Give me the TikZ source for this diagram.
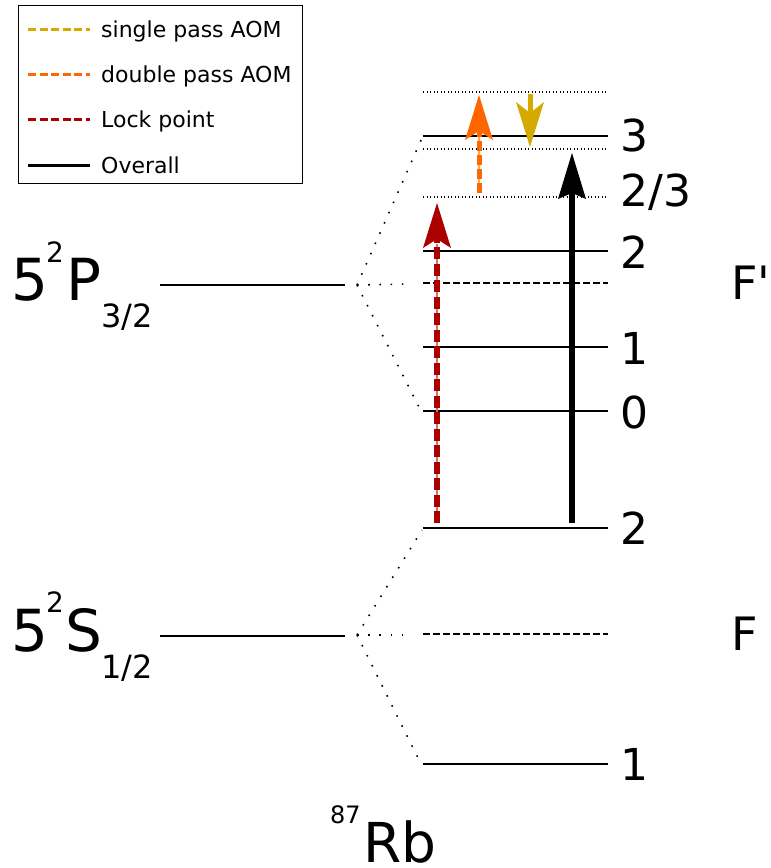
\documentclass[tikz,border=0pt]{standalone}
\usepackage{fontspec}
\newfontfamily\dejavu{DejaVu Sans}
\usetikzlibrary{arrows.meta}
\definecolor{gold}{HTML}{D4AA00}
\definecolor{orng}{HTML}{FF6600}
\definecolor{lockred}{HTML}{AA0000}

\tikzset{
  level/.style={line width=1.6pt},
  sublevel/.style={line width=1.3pt, dash pattern=on 1.3pt off 2.2pt},
  centerlevel/.style={line width=1.4pt, dash pattern=on 7pt off 3pt},
  guide/.style={line width=1.6pt, dash pattern=on 1.6pt off 9.6pt},
  txt/.style={inner sep=0pt, anchor=base west, text depth=0pt},
  big/.style={txt, font=\dejavu\fontsize{58}{58}\selectfont},
  small/.style={txt, font=\dejavu\fontsize{32}{32}\selectfont},
  supsc/.style={txt, font=\dejavu\fontsize{28}{28}\selectfont},
  num/.style={txt, font=\dejavu\fontsize{44}{44}\selectfont},
  legtext/.style={txt, font=\dejavu\fontsize{22}{22}\selectfont},
  legline/.style={line width=3pt, dash pattern=on 8pt off 3.5pt},
  head/.style={-{Stealth[length=45pt,width=28pt,inset=9pt,line width=0pt]}},
}

\begin{document}
\begin{tikzpicture}[x=1pt, y=-1pt]
\useasboundingbox (0,0) rectangle (771,868);

% ---------- legend ----------
\node[draw, line width=1.3pt, minimum width=284pt, minimum height=178pt, anchor=north west, inner sep=0pt] (legend) at (18,5) {};
\foreach \y/\c/\t/\s in {29/gold/single pass AOM/legline, 74/orng/double pass AOM/legline, 119/lockred/Lock point/legline, 165/black/Overall/{}} {
  \coordinate (la\y) at (28,\y);
  \coordinate (lb\y) at (90,\y);
  \draw[line width=3pt, color=\c, \s] (la\y) -- (lb\y);
  \node[legtext] (lt\y) at (101,\y+8) {\t};
}

% ---------- fine structure levels ----------
\coordinate (pl) at (160,285);
\coordinate (pr) at (345,285);
\coordinate (sl) at (160,636);
\coordinate (sr) at (345,636);
\draw[level] (pl) -- (pr);
\draw[level] (sl) -- (sr);

\node[big] (p5) at (11,300) {5};
\node[supsc] (p2) at (46,262) {2};
\node[big] (pP) at (66,300) {P};
\node[small] (pj) at (101,327) {3/2};

\node[big] (s5) at (11,651) {5};
\node[supsc] (s2) at (46,612) {2};
\node[big] (sS) at (65,651) {S};
\node[small] (sj) at (101,678) {1/2};

% ---------- hyperfine levels ----------
\foreach \n/\y in {e3/136, e2/251, e1/347, e0/411, g2/528, g1/764} {
  \coordinate (\n w) at (423,\y);
  \coordinate (\n e) at (608,\y);
  \draw[level] (\n w) -- (\n e);
}
\foreach \n/\y in {vt/92, vm/149, vb/197} {
  \coordinate (\n w) at (423,\y);
  \coordinate (\n e) at (608,\y);
  \draw[sublevel] (\n w) -- (\n e);
}
\foreach \n/\y in {ce/283, cg/634} {
  \coordinate (\n w) at (423,\y);
  \coordinate (\n e) at (608,\y);
  \draw[centerlevel] (\n w) -- (\n e);
}

% splitting guides
\coordinate (pc) at (357,285);
\coordinate (sc) at (357,635);
\draw[guide] (pc) -- (422,138);
\draw[guide] (pc) -- (420,409);
\draw[guide] (pc) -- (408,284);
\draw[guide] (sc) -- (422,530);
\draw[guide] (sc) -- (420,762);
\draw[guide] (sc) -- (408,635);

% ---------- labels ----------
\node[num] (n3) at (620,151) {3};
\node[num] (n23) at (620,206) {2/3};
\node[num] (n2) at (620,268) {2};
\node[num] (n1) at (620,364) {1};
\node[num] (n0) at (620,428) {0};
\node[num] (m2) at (620,544) {2};
\node[num] (m1) at (620,780) {1};

\node[txt, font=\dejavu\fontsize{46}{46}\selectfont] (Fp) at (731,299) {F'};
\node[txt, font=\dejavu\fontsize{46}{46}\selectfont] (Fg) at (731,650) {F};

\node[txt, font=\dejavu\fontsize{24}{24}\selectfont] (iso) at (330,823) {87};
\node[txt, font=\dejavu\fontsize{55}{55}\selectfont] (rbl) at (363,862) {Rb};

% ---------- transitions ----------
% lock point
\coordinate (ra) at (437,523);
\coordinate (rb) at (437,203);
\draw[lockred!55, line width=1.5pt] (ra) -- (437,244);
\draw[lockred, line width=6pt, dash pattern=on 12pt off 4.5pt, head] (ra) -- (rb);

% double pass AOM
\coordinate (oa) at (479,193);
\coordinate (ob) at (479,95);
\draw[orng!60, line width=1.3pt] (oa) -- (479,136);
\draw[orng, line width=5pt, dash pattern=on 10pt off 4pt, head] (oa) -- (ob);

% single pass AOM
\coordinate (ga) at (530,94);
\coordinate (gb) at (530,147);
\draw[gold, line width=5pt, -{Stealth[length=45pt,width=28pt,inset=11pt,line width=0pt]}] (ga) -- (gb);

% overall
\coordinate (ka) at (572,523);
\coordinate (kb) at (572,153);
\draw[black, line width=6pt, -{Stealth[length=46pt,width=28pt,inset=6pt,line width=0pt]}] (ka) -- (kb);
\end{tikzpicture}
\end{document}
